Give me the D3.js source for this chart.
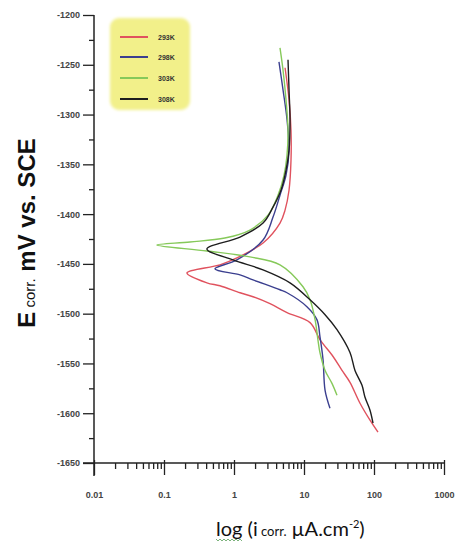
<!DOCTYPE html>
<html><head><meta charset="utf-8">
<script src="https://cdn.jsdelivr.net/npm/d3@7"></script>
<style>body{margin:0;background:#fff}</style>
</head><body><svg id="c" width="456" height="549"></svg>
<script>
// ---- data ----
const seriesNames = ["293K", "298K", "303K", "308K"];
const seriesColors = ["#e0525e", "#3b3f8f", "#86c95a", "#1e1e1e"];

const i293 = [5.36,6.11,6.52,6.52,6.11,5.36,4.54,2.60,1.10,0.63,0.213,0.41,0.63,1.22,1.87,3.27,5.72,12.2,16.9,26.0,34.9,45.4,63.1,87.7,114];
const E293 = [-1253,-1285,-1316,-1346,-1376,-1396,-1409,-1429,-1444,-1451,-1459,-1469,-1472,-1479,-1483,-1490,-1499,-1509,-1526,-1543,-1557,-1569,-1590,-1607,-1619];

const i298 = [4.39,5.01,5.72,6.11,5.53,4.54,3.61,2.60,1.10,0.535,1.22,1.87,4.54,5.72,11.0,15.3,16.9,18.7,20.0,23.5];
const E298 = [-1247,-1275,-1305,-1336,-1361,-1381,-1403,-1426,-1446,-1455,-1461,-1466,-1476,-1479,-1493,-1506,-1523,-1546,-1577,-1595];

const i303 = [4.54,5.01,5.53,5.91,5.72,5.18,4.25,3.06,1.69,0.74,0.235,0.079,0.41,1.69,4.54,9.68,12.2,14.4,15.8,16.9,20.0,25.1,29.6];
const E303 = [-1233,-1255,-1285,-1316,-1341,-1361,-1381,-1401,-1416,-1424,-1428,-1431,-1437,-1443,-1451,-1473,-1486,-1506,-1526,-1539,-1557,-1570,-1582];

const i308 = [5.91,6.11,6.31,6.11,5.53,4.69,3.61,2.60,1.22,0.41,0.97,2.60,6.31,12.2,20.0,29.6,45.4,53.5,67.4,74.4,87.7,96.8];
const E308 = [-1245,-1275,-1305,-1336,-1356,-1376,-1393,-1409,-1423,-1435,-1446,-1456,-1469,-1486,-1501,-1516,-1539,-1557,-1572,-1584,-1597,-1610];

const xMajorTicks = [0.01, 0.1, 1, 10, 100, 1000];
const xTickLabels = ["0.01", "0.1", "1", "10", "100", "1000"];
const yMajorTicks = [-1200,-1250,-1300,-1350,-1400,-1450,-1500,-1550,-1600,-1650];
const yTickLabels = ["-1200","-1250","-1300","-1350","-1400","-1450","-1500","-1550","-1600","-1650"];
const yMinorTicks = [-1225,-1275,-1325,-1375,-1425,-1475,-1525,-1575,-1625];

// ---- drawing ----
const svg = d3.select("#c");
const x = d3.scaleLog().domain([0.01, 1000]).range([94, 444]);
const y = d3.scaleLinear().domain([-1200, -1650]).range([15, 463]);

const xMinorTicks = [];
xMajorTicks.slice(0, -1).forEach(d => { for (let k = 2; k <= 9; k++) xMinorTicks.push(d * k); });

const axisColor = "#222";
const tickFont = "bold 9px 'Liberation Sans', Arial, sans-serif";

// X axis
const gx = svg.append("g").attr("transform", `translate(0,${y(-1650)})`);
gx.call(d3.axisBottom(x).tickValues(xMinorTicks).tickSize(6).tickFormat(""));
gx.call(g => g.select(".domain").remove());
const gx2 = svg.append("g").attr("transform", `translate(0,${y(-1650)})`);
gx2.call(d3.axisBottom(x).tickValues(xMajorTicks).tickSize(12).tickPadding(17)
  .tickFormat((d, i) => xTickLabels[i]));
gx2.select(".domain").remove();
gx2.selectAll(".tick line").attr("y1", -3);
[gx, gx2].forEach(g => g.selectAll(".tick line").attr("stroke", axisColor).attr("stroke-width", 1.3));
gx2.selectAll(".tick text").attr("fill", "#444").style("font", tickFont);
svg.append("line").attr("x1", 83).attr("x2", x(1000) + 1).attr("y1", y(-1650)).attr("y2", y(-1650))
  .attr("stroke", axisColor).attr("stroke-width", 1.5);

// Y axis
const gy = svg.append("g").attr("transform", `translate(${x(0.01)},0)`);
gy.call(d3.axisLeft(y).tickValues(yMinorTicks).tickSize(5).tickFormat(""));
gy.select(".domain").remove();
const gy2 = svg.append("g").attr("transform", `translate(${x(0.01)},0)`);
gy2.call(d3.axisLeft(y).tickValues(yMajorTicks).tickSize(11).tickPadding(3)
  .tickFormat((d, i) => yTickLabels[i]));
gy2.select(".domain").remove();
[gy, gy2].forEach(g => g.selectAll(".tick line").attr("stroke", axisColor).attr("stroke-width", 1.3));
gy2.selectAll(".tick text").attr("fill", "#444").style("font", tickFont);
svg.append("line").attr("x1", x(0.01)).attr("x2", x(0.01)).attr("y1", y(-1200)).attr("y2", y(-1650) + 13)
  .attr("stroke", axisColor).attr("stroke-width", 1.5);

// Curves
const allI = [i293, i298, i303, i308];
const allE = [E293, E298, E303, E308];
const line = d3.line().x(d => x(d[0])).y(d => y(d[1])).curve(d3.curveCatmullRom.alpha(0.5));
allI.forEach((arr, s) => {
  const pts = arr.map((v, k) => [v, allE[s][k]]);
  svg.append("path").datum(pts).attr("d", line).attr("fill", "none")
    .attr("stroke", seriesColors[s]).attr("stroke-width", 1.4).attr("stroke-linejoin", "round");
});

// Legend
const defs = svg.append("defs");
defs.append("filter").attr("id", "soft").append("feGaussianBlur").attr("stdDeviation", 1.5);
svg.append("rect").attr("x", 110).attr("y", 18).attr("width", 80).attr("height", 92)
  .attr("rx", 9).attr("fill", "#f2f08a").attr("filter", "url(#soft)");
const legendRows = [37, 57, 78, 99];
seriesNames.forEach((n, s) => {
  svg.append("line").attr("x1", 120).attr("x2", 148).attr("y1", legendRows[s]).attr("y2", legendRows[s])
    .attr("stroke", seriesColors[s]).attr("stroke-width", 2);
  svg.append("text").attr("x", 158).attr("y", legendRows[s] + 2.5).text(n)
    .style("font", "bold 7px 'Liberation Sans', Arial, sans-serif").attr("fill", "#333");
});

// Y title
const yt = svg.append("text").attr("transform", "translate(35,233) rotate(-90)")
  .attr("text-anchor", "middle").style("font-family", "'Liberation Sans', Arial, sans-serif")
  .style("font-weight", "bold").attr("fill", "#111");
yt.append("tspan").text("E").style("font-size", "24px");
yt.append("tspan").text(" corr.").style("font-size", "15px").style("font-weight", "normal");
yt.append("tspan").text(" mV vs. SCE").style("font-size", "24px");

// X title
const xt = svg.append("text").attr("x", 216).attr("y", 536)
  .style("font-family", "Lato, 'Open Sans', sans-serif").attr("fill", "#111");
xt.append("tspan").text("log").style("font-size", "20px");
xt.append("tspan").text(" (i").style("font-size", "20px");
xt.append("tspan").text(" corr.").style("font-size", "13px");
xt.append("tspan").text(" µA.cm").style("font-size", "20px");
xt.append("tspan").text("-2").style("font-size", "11px").attr("dy", -8);
xt.append("tspan").text(")").style("font-size", "20px").attr("dy", 8);
const logW = xt.node().getSubStringLength(0, 3);
let zz = "M216,539";
for (let px = 218; px <= 216 + logW; px += 2) zz += `L${px},${(px / 2) % 2 === 0 ? 539 : 541}`;
svg.append("path").attr("d", zz).attr("fill", "none").attr("stroke", "#5aa05a").attr("stroke-width", 0.8);
</script></body></html>
